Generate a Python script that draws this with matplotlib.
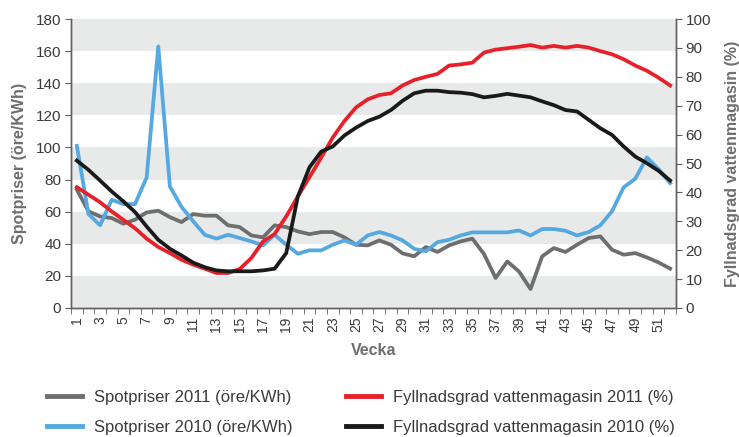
import numpy as np
import matplotlib
matplotlib.use("Agg")
import matplotlib.pyplot as plt
from matplotlib.lines import Line2D

plt.rcParams['font.family'] = ['Liberation Sans', 'DejaVu Sans']

weeks = list(range(1, 53))

# Spotpriser (öre/KWh), left axis
spot_2011 = [73.7, 60.2, 57.0, 56.0, 52.5, 55.0, 59.5, 60.6, 56.6, 53.5,
             58.5, 57.5, 57.5, 51.5, 50.4, 45.2, 44.0, 51.5, 50.4, 47.7,
             46.0, 47.3, 47.3, 44.0, 39.4, 39.0, 42.1, 39.4, 34.0, 32.2,
             38.0, 34.9, 39.0, 41.5, 43.2, 33.6, 18.7, 29.0, 22.8, 11.8,
             32.2, 37.3, 34.9, 39.4, 43.6, 44.6, 36.3, 33.2, 34.2, 31.5,
             28.4, 24.5]
spot_2010 = [101.0, 58.5, 51.5, 67.4, 64.7, 64.7, 81.3, 162.9, 75.7, 63.0,
             54.0, 45.6, 43.2, 45.6, 43.6, 41.5, 39.0, 45.6, 39.4, 33.8,
             35.9, 35.9, 39.4, 42.1, 39.4, 45.2, 47.3, 45.2, 42.1, 36.9,
             35.3, 41.0, 42.5, 45.2, 47.1, 47.1, 47.1, 47.1, 48.3, 45.2,
             49.2, 49.2, 48.1, 45.2, 47.3, 51.5, 60.2, 75.1, 80.5, 93.8,
             86.5, 77.8]

# Fyllnadsgrad vattenmagasin (%), right axis
fyll_2011 = [41.8, 39.2, 36.6, 33.4, 30.5, 27.6, 24.0, 21.1, 19.0, 16.7,
             15.0, 13.6, 12.1, 12.1, 13.5, 17.3, 23.0, 25.6, 31.7, 38.6,
             45.3, 52.0, 59.0, 64.7, 69.4, 72.2, 73.7, 74.3, 77.0, 78.9,
             80.0, 81.0, 83.9, 84.3, 84.9, 88.4, 89.4, 89.9, 90.4, 91.0,
             90.1, 90.7, 90.1, 90.7, 90.1, 88.9, 87.8, 86.1, 83.9, 82.1,
             79.7, 77.0]
fyll_2010 = [51.0, 47.8, 44.1, 40.3, 36.9, 33.2, 28.2, 23.6, 20.5, 18.2,
             15.7, 14.1, 13.0, 12.7, 12.7, 12.7, 13.0, 13.6, 19.0, 38.6,
             48.7, 54.1, 55.9, 59.7, 62.4, 64.7, 66.2, 68.5, 71.7, 74.3,
             75.2, 75.2, 74.7, 74.5, 74.0, 72.9, 73.4, 74.1, 73.5, 72.9,
             71.5, 70.2, 68.5, 68.0, 65.1, 62.2, 59.9, 55.9, 52.4, 50.1,
             47.5, 44.1]

labels = ['Spotpriser 2011 (öre/KWh)', 'Spotpriser 2010 (öre/KWh)',
          'Fyllnadsgrad vattenmagasin 2011 (%)', 'Fyllnadsgrad vattenmagasin 2010 (%)']
colors = ['#6d6e70', '#56a8e0', '#e8202a', '#1a1a1a']

txt = '#3a3a3a'
lab = '#6d6e70'
spine_c = '#606060'

fig = plt.figure(figsize=(7.39, 4.37), dpi=100)
ax = fig.add_axes([0.0961, 0.2952, 0.8186, 0.6613])
ax2 = ax.twinx()

# grey bands every other 20 units
for lo in range(0, 180, 40):
    ax.axhspan(lo, lo + 20, color='#e8e9e9', lw=0, zorder=0)

lw = 2.7
ax.plot(weeks, spot_2011, color=colors[0], lw=lw, zorder=3)
ax.plot(weeks, spot_2010, color=colors[1], lw=lw, zorder=3)
ax2.plot(weeks, fyll_2011, color=colors[2], lw=lw)
ax2.plot(weeks, fyll_2010, color=colors[3], lw=lw)

ax.set_xlim(0.5, 52.5)
ax.set_ylim(0, 180)
ax2.set_ylim(0, 100)
ax.set_yticks(range(0, 181, 20))
ax2.set_yticks(range(0, 101, 10))

odd = [w for w in weeks if w % 2 == 1]
ax.set_xticks(odd)
ax.set_xticklabels([str(w) for w in odd], rotation=90)
ax.set_xticks(np.arange(0.5, 53, 1), minor=True)
ax.tick_params(axis='x', which='major', length=0, pad=6, labelsize=10, labelcolor=txt)
ax.tick_params(axis='x', which='minor', length=4, direction='out', color=spine_c)
ax.tick_params(axis='y', length=4, direction='out', color=spine_c, labelsize=11, labelcolor=txt, pad=3)
ax2.tick_params(axis='y', length=4, direction='out', color=spine_c, labelsize=11, labelcolor=txt, pad=3)

for a in (ax, ax2):
    a.spines['top'].set_visible(False)
    for s in ('left', 'right', 'bottom'):
        a.spines[s].set_color(spine_c)
        a.spines[s].set_linewidth(1.0)

ax.set_xlabel('Vecka', fontsize=11.5, fontweight='bold', color=lab, labelpad=8)
ax.set_ylabel('Spotpriser (öre/KWh)', fontsize=11.5, fontweight='bold', color=lab, labelpad=6)
ax2.set_ylabel('Fyllnadsgrad vattenmagasin (%)', fontsize=11.5, fontweight='bold', color=lab, labelpad=10)

handles = [Line2D([], [], color=c, lw=3.5) for c in colors]
fig.legend(handles, labels, ncol=2, loc='center left', bbox_to_anchor=(0.052, 0.056),
           frameon=False, fontsize=12, handlelength=2.1, handletextpad=0.72,
           columnspacing=3.2, labelspacing=0.92, labelcolor=txt, borderpad=0)

fig.savefig('out.png', dpi=100)
